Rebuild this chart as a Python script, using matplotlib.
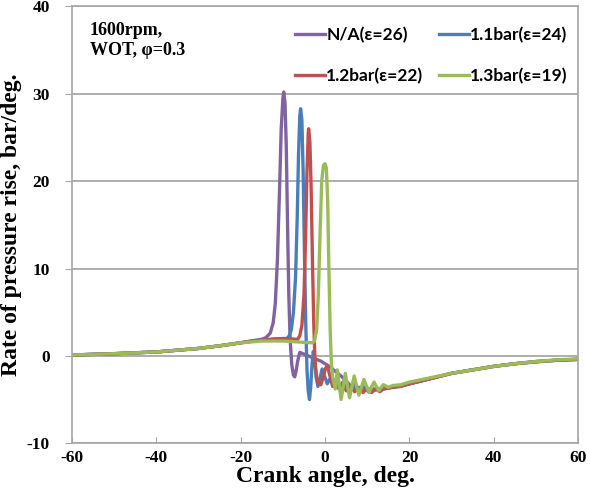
import matplotlib
matplotlib.use("Agg")
import matplotlib.pyplot as plt

plt.rcParams['axes.unicode_minus'] = False

# Crank angle (deg) and rate of pressure rise (bar/deg)
ca_na = [-60, -50, -40, -30, -25, -20, -17, -15, -14, -13, -12.3, -11.8, -11.3, -10.8, -10.4,
         -10.0, -9.8, -9.5, -9.2, -8.9, -8.6, -8.3, -7.9, -7.5, -7.2, -6.9, -6.5, -6.0, -5.0,
         -3.0, -1.0, 1.0, 2.5, 4.0, 5.0, 6.0, 7.0, 8.0, 9.0, 10.0, 11.0, 12.0, 14.0, 16.0,
         18.0, 20, 25, 30, 35, 40, 45, 50, 55, 60]
rr_na = [0.1, 0.25, 0.45, 0.85, 1.15, 1.5, 1.75, 1.9, 2.1, 2.6, 3.8, 6.0, 11.0, 19.0, 26.0,
         29.5, 30.2, 29.0, 24.0, 15.0, 7.0, 2.0, -1.0, -2.2, -2.4, -1.8, -0.6, 0.4, 0.2,
         -0.2, -0.6, -1.2, -1.8, -2.4, -2.9, -3.4, -3.2, -3.8, -3.5, -4.0, -3.7, -3.9, -3.8,
         -3.6, -3.5, -3.2, -2.6, -2.0, -1.6, -1.2, -0.9, -0.7, -0.5, -0.4]

ca_11 = [-60, -50, -40, -30, -25, -20, -17, -15, -12, -9.0, -8.5, -8.0, -7.5, -7.0, -6.6,
         -6.3, -6.0, -5.8, -5.5, -5.2, -4.9, -4.6, -4.3, -4.0, -3.7, -3.4, -3.1, -2.8, -2.5,
         -2.1, -1.7, -1.2, -0.7, -0.2, 0.5, 1.2, 2.0, 3.0, 4.0, 5.0, 6.0, 7.0, 8.0, 9.0,
         10.0, 12.0, 14.0, 16.0, 18.0, 20, 25, 30, 35, 40, 45, 50, 55, 60]
rr_11 = [0.1, 0.25, 0.45, 0.85, 1.15, 1.5, 1.7, 1.8, 1.95, 2.0, 2.3, 3.0, 5.0, 9.0, 16.0,
         23.0, 27.5, 28.3, 27.0, 21.0, 12.0, 4.0, -1.5, -4.0, -5.0, -3.5, -1.0, 0.5, -0.3,
         -2.5, -3.5, -2.5, -1.5, -2.2, -3.2, -2.6, -3.5, -3.0, -3.8, -3.3, -4.0, -3.5, -4.1,
         -3.6, -4.0, -3.8, -3.7, -3.6, -3.4, -3.2, -2.6, -2.0, -1.6, -1.2, -0.9, -0.65, -0.5, -0.4]

ca_12 = [-60, -50, -40, -30, -25, -20, -17, -15, -12, -9, -6.5, -6.0, -5.5, -5.0, -4.6,
         -4.3, -4.0, -3.9, -3.6, -3.3, -3.0, -2.7, -2.4, -2.0, -1.5, -1.0, -0.5, 0.0, 0.5,
         1.0, 1.8, 2.5, 3.3, 4.2, 5.0, 6.0, 7.0, 8.0, 9.0, 10.0, 11.0, 12.0, 13.0, 14.0,
         16.0, 18.0, 20, 25, 30, 35, 40, 45, 50, 55, 60]
rr_12 = [0.1, 0.25, 0.45, 0.85, 1.15, 1.5, 1.7, 1.8, 1.9, 1.95, 1.9, 2.3, 3.5, 7.0, 14.0,
         21.0, 25.5, 26.0, 24.5, 19.0, 11.0, 4.0, -0.5, -2.5, -3.2, -3.3, -2.5, -1.5, -1.2,
         -2.0, -3.5, -2.8, -3.8, -3.0, -4.0, -3.4, -4.1, -3.6, -4.2, -3.7, -4.2, -3.8, -4.1,
         -3.7, -3.6, -3.4, -3.2, -2.6, -2.0, -1.6, -1.2, -0.9, -0.65, -0.5, -0.4]

ca_13 = [-60, -50, -40, -30, -25, -20, -15, -10, -5, -3.0, -2.5, -2.0, -1.6, -1.2, -0.8,
         -0.4, 0.0, 0.3, 0.6, 0.9, 1.2, 1.5, 1.8, 2.4, 2.9, 3.8, 4.8, 5.8, 6.9, 8.0, 9.2,
         10.4, 11.6, 12.7, 13.8, 15.0, 16.0, 18.0, 20, 25, 30, 35, 40, 45, 50, 55, 60]
rr_13 = [0.1, 0.25, 0.45, 0.85, 1.15, 1.5, 1.7, 1.7, 1.55, 1.5, 1.7, 3.0, 7.0, 14.0, 20.0,
         21.8, 22.0, 21.5, 18.0, 10.0, 3.0, -1.0, -2.5, -3.8, -1.6, -5.0, -2.0, -4.8, -2.3,
         -4.5, -2.7, -4.2, -3.0, -4.0, -3.3, -3.6, -3.4, -3.3, -3.0, -2.5, -2.0, -1.6, -1.2,
         -0.9, -0.65, -0.45, -0.35]

labels = ['N/A(ε=26)', '1.1bar(ε=24)', '1.2bar(ε=22)', '1.3bar(ε=19)']
colors = ['#8064A2', '#4A7EBB', '#C0504D', '#9BBB59']

fig = plt.figure(figsize=(5.9, 4.98), dpi=100)
ax = fig.add_axes([0.122, 0.110, 0.858, 0.877])

l_na, = ax.plot(ca_na, rr_na, color=colors[0], lw=2.4, label=labels[0])
l_11, = ax.plot(ca_11, rr_11, color=colors[1], lw=2.4, label=labels[1])
l_12, = ax.plot(ca_12, rr_12, color=colors[2], lw=2.4, label=labels[2])
l_13, = ax.plot(ca_13, rr_13, color=colors[3], lw=2.4, label=labels[3])

ax.set_xlim(-60, 60)
ax.set_ylim(-10, 40)
ax.set_xticks(range(-60, 61, 20))
ax.set_yticks(range(-10, 41, 10))
ax.yaxis.grid(True, color='#A0A0A0', lw=1.2)
ax.set_axisbelow(True)
for s in ax.spines.values():
    s.set_color('#A6A6A6')
    s.set_linewidth(1.2)

tick_font = dict(family=['Liberation Serif', 'DejaVu Serif'], weight='bold', size=12.5)
ax.set_xticklabels([str(v) for v in range(-60, 61, 20)], fontdict=tick_font)
ax.set_yticklabels([str(v) for v in range(-10, 41, 10)], fontdict=tick_font)
ax.tick_params(axis='x', direction='in', length=4, color='#A6A6A6', pad=5)
ax.tick_params(axis='y', direction='out', length=5, color='#A6A6A6', pad=11)

lab_font = dict(family=['Liberation Serif', 'DejaVu Serif'], weight='bold', size=17)
ax.set_xlabel('Crank angle, deg.', fontdict=lab_font, labelpad=0)
ax.set_ylabel('Rate of pressure rise, bar/deg.', fontdict=lab_font, labelpad=3)

ax.text(0.035, 0.965, '1600rpm,\nWOT, φ=0.3', transform=ax.transAxes, va='top', ha='left',
        family=['Liberation Serif', 'DejaVu Serif'], weight='bold', size=13, linespacing=1.25)

leg = ax.legend(handles=[l_na, l_12, l_11, l_13], ncol=2, loc='upper right',
                bbox_to_anchor=(1.0, 0.978), borderaxespad=0.2, frameon=False,
                handlelength=1.7, handletextpad=0.1, columnspacing=0.9, labelspacing=1.45,
                prop=dict(family=['Lato', 'DejaVu Sans'], weight='bold', size=12.5))

fig.savefig('out.png', dpi=100)
